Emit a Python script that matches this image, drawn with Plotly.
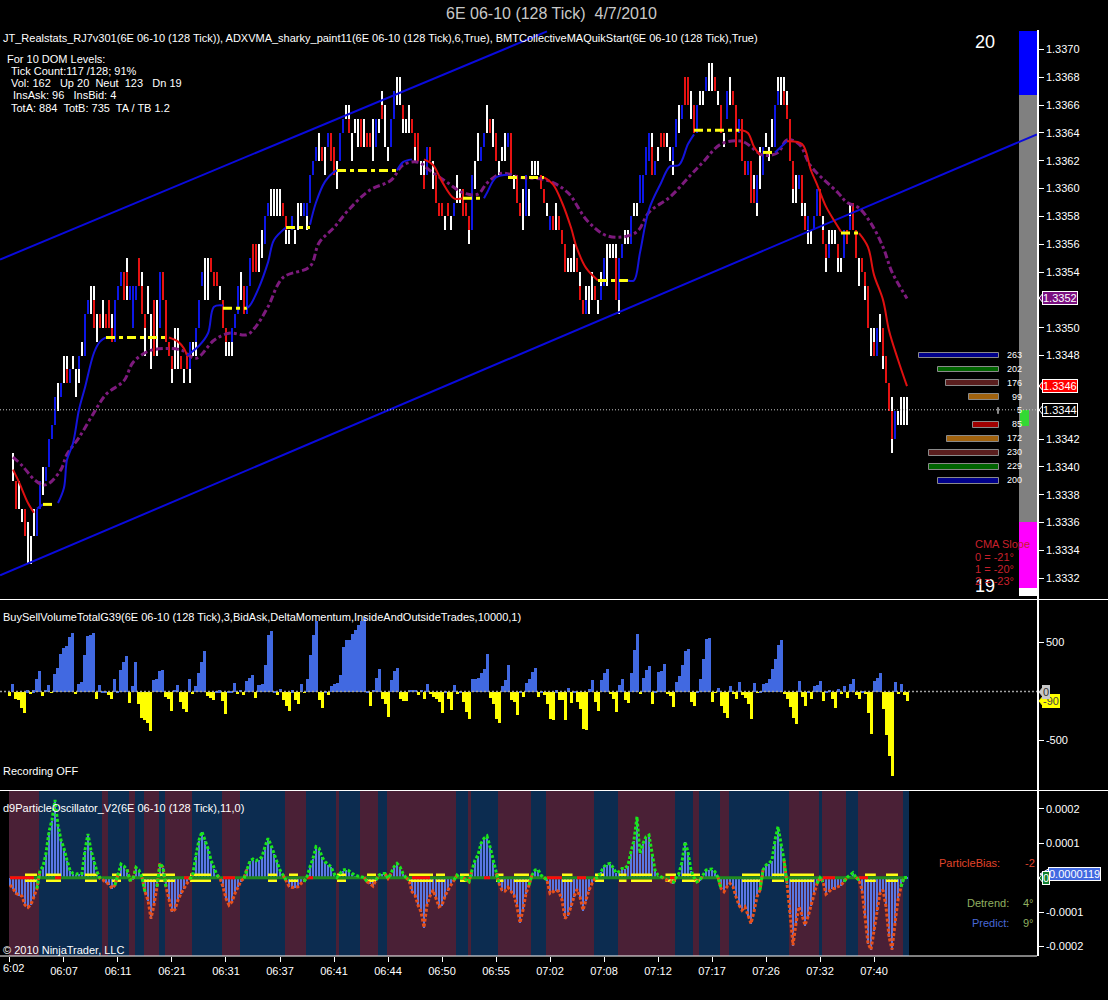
import itertools
import plotly.graph_objects as go

FONT = "Liberation Sans"
W = 1108.0
H = 1000.0

# --- price panel, all in ticks above 1.3300
bar_index = list(range(1, 300))
bar_high = [41,39,39,37,37,36,35,37,37,39,
    40,40,42,43,45,46,46,48,48,47,
    48,47,48,49,51,52,53,53,51,51,
    52,51,52,51,52,53,54,54,55,53,
    53,53,55,54,51,53,51,52,52,54,
    54,52,49,48,50,50,48,47,48,49,
    49,50,52,54,55,55,55,54,54,53,
    52,50,49,50,51,53,54,53,53,55,
    56,56,56,57,58,59,60,60,60,60,
    59,58,57,58,57,59,59,59,59,61,
    62,63,64,63,63,64,64,63,62,64,
    65,66,66,64,65,65,65,65,64,64,
    65,65,65,67,66,63,65,67,68,68,
    66,65,66,65,64,64,62,62,63,63,
    62,61,59,59,58,59,58,59,61,60,
    60,59,58,61,62,64,63,64,66,65,
    65,64,62,63,64,64,64,61,61,59,
    60,61,60,62,62,62,61,60,59,58,
    58,59,58,57,56,55,55,56,55,54,
    52,53,53,54,53,52,54,55,56,56,
    56,56,55,56,57,57,58,59,59,61,
    61,63,64,64,62,63,64,64,64,63,
    63,65,66,66,68,68,67,66,66,67,
    67,68,69,69,68,67,66,64,67,68,
    67,66,65,65,62,62,62,61,61,63,
    63,64,63,65,66,68,68,68,67,65,
    62,61,61,61,59,58,57,58,60,60,
    58,56,57,57,57,56,55,57,57,59,
    59,57,55,55,54,53,50,50,50,51,
    50,48,46,45,44,44,45,45,45]
bar_low = [39,37,37,36,35,33,33,35,35,37,
    38,39,40,42,43,44,45,46,46,46,
    47,45,46,48,48,51,51,50,49,50,
    50,50,50,49,49,52,53,52,52,52,
    50,52,53,51,48,51,47,48,48,50,
    52,49,48,46,47,47,47,46,47,46,
    48,48,50,53,52,52,54,53,53,52,
    50,48,48,48,50,51,52,51,51,53,
    54,54,54,55,56,58,58,58,58,58,
    58,56,56,57,56,57,58,58,57,59,
    61,62,62,62,61,63,62,61,60,62,
    64,65,64,62,64,63,63,63,63,63,
    62,63,64,65,63,62,63,65,66,66,
    64,64,64,64,62,62,61,60,61,62,
    60,59,58,58,57,58,57,58,59,59,
    58,58,56,57,60,62,62,63,64,64,
    63,62,61,62,62,63,61,60,59,58,
    57,58,58,61,61,61,60,59,58,57,
    57,57,57,56,54,54,54,54,54,52,
    51,51,51,52,52,51,52,53,53,55,
    55,52,51,55,56,56,56,58,58,59,
    59,61,62,61,61,62,63,63,63,62,
    61,63,64,65,66,66,65,64,64,66,
    66,67,67,67,67,66,64,63,65,66,
    66,63,64,62,61,61,59,59,58,60,
    61,63,62,63,63,66,66,66,65,62,
    59,59,60,58,57,56,56,57,58,58,
    56,54,55,56,56,54,54,55,56,57,
    57,55,53,54,52,50,48,48,48,49,
    47,46,44,41,42,43,43,43,43]
bar_open = [39,39,37,36,37,33,33,35,35,37,
    38,39,40,42,43,44,45,46,47,46,
    47,45,47,48,48,51,51,52,49,51,
    50,51,52,50,49,52,53,54,54,52,
    50,52,55,53,51,51,47,52,48,50,
    54,52,49,48,47,47,48,46,48,47,
    48,49,50,53,52,52,55,54,54,52,
    52,50,48,49,50,51,52,53,51,53,
    56,56,54,55,56,58,58,58,58,58,
    59,58,56,57,56,57,58,58,58,59,
    61,62,62,63,61,63,64,63,60,62,
    64,65,65,62,64,63,65,63,64,64,
    62,63,64,66,63,62,63,65,66,66,
    66,64,64,65,64,64,61,61,61,63,
    60,61,59,59,57,59,57,58,59,59,
    60,59,58,57,60,62,62,63,64,65,
    63,64,61,62,62,63,64,60,61,59,
    57,58,58,61,61,61,61,60,58,57,
    58,57,58,57,56,54,54,54,55,53,
    52,51,51,52,53,51,52,53,53,55,
    55,55,52,55,56,56,56,58,58,59,
    59,61,62,63,61,62,64,64,63,62,
    62,63,64,65,68,68,65,66,64,66,
    66,67,67,67,68,66,66,63,65,66,
    67,66,64,65,62,61,62,60,59,60,
    61,63,62,63,63,66,66,67,66,65,
    62,59,60,61,58,57,56,57,58,60,
    57,56,55,56,56,56,54,55,57,57,
    59,57,53,55,54,53,48,49,48,49,
    50,48,46,44,42,43,43,43,43]
bar_close = [39,37,37,36,35,33,33,35,37,39,
    38,40,42,43,45,44,46,46,46,47,
    47,45,48,48,51,52,51,50,49,50,
    50,50,50,49,52,53,54,52,53,53,
    53,53,53,51,50,51,47,48,48,54,
    52,49,48,47,47,47,47,46,47,49,
    48,50,52,54,52,52,54,53,53,52,
    50,49,48,50,51,53,52,51,53,55,
    54,54,54,55,58,59,58,58,58,58,
    58,57,56,58,56,57,58,59,59,61,
    62,63,62,62,61,64,62,61,60,64,
    65,65,64,62,64,63,63,63,63,63,
    62,65,64,65,63,62,65,67,66,66,
    65,64,64,64,63,62,61,60,63,62,
    60,59,58,58,57,58,57,59,59,59,
    58,58,57,61,60,62,63,64,64,64,
    63,62,61,62,62,64,61,60,59,58,
    57,61,58,61,61,61,60,59,58,58,
    57,57,57,56,54,54,54,54,54,52,
    51,52,51,52,52,51,53,55,53,55,
    55,52,55,56,56,56,58,58,58,61,
    61,63,64,61,62,62,63,63,63,62,
    63,65,64,66,66,66,65,64,66,66,
    66,68,67,67,67,66,64,63,67,66,
    66,63,65,62,61,62,59,59,61,60,
    63,63,62,63,66,67,66,66,65,62,
    60,59,61,59,57,58,56,58,60,58,
    56,55,56,56,56,55,54,57,56,58,
    57,55,53,54,53,50,48,48,50,49,
    48,46,44,42,44,43,43,43,43]

# adaptive moving average: r falling, b rising, y flat
vma_index = [1,3,6,8, 9,11, 11,14, 16,18,19,21,23,25,28,30,32, 32,53,
    53,56,58,59, 59,63,66,68,71, 71,79, 79,80,83,86,88,92, 92,100,
    100,102,105,108,109, 109,129, 129,131,134, 138,141,144,148,151, 151,158,
    158,159,162,166, 166,178, 178,181,184,187,189,192,196, 196,206,
    206,208,210,213,217,220,223,226,228, 228,243, 243,244,246,248,250, 251,255,
    255,259, 259,264,267,269,272,275,277, 277,283, 283,286,288,291,293,296,299]
vma_price = [1.33398,1.33389,1.33374,1.33367, 1.33370,1.33373, 1.33373,1.33373,
    1.33374,1.33385,1.33405,1.33417,1.33441,1.33457,1.33482,1.33490,1.33493, 1.33493,1.33493,
    1.33493,1.33490,1.33485,1.33480, 1.33480,1.33487,1.33496,1.33515,1.33516, 1.33514,1.33514,
    1.33514,1.33516,1.33529,1.33547,1.33563,1.33572, 1.33572,1.33572,
    1.33574,1.33590,1.33605,1.33612,1.33613, 1.33613,1.33613, 1.33613,1.33619,1.33621,
    1.33621,1.33617,1.33605,1.33593,1.33593, 1.33593,1.33593,
    1.33593,1.33597,1.33608,1.33610, 1.33608,1.33608,
    1.33608,1.33603,1.33590,1.33572,1.33557,1.33543,1.33534, 1.33534,1.33534,
    1.33534,1.33534,1.33554,1.33585,1.33604,1.33616,1.33617,1.33632,1.33639, 1.33642,1.33642,
    1.33642,1.33642,1.33640,1.33630,1.33624, 1.33626,1.33626,
    1.33626,1.33634, 1.33634,1.33632,1.33613,1.33603,1.33587,1.33576,1.33569, 1.33568,1.33568,
    1.33568,1.33558,1.33538,1.33520,1.33498,1.33477,1.33458]
vma_state = list("rrrr" "bb" "yy" "bbbbbbbbb" "yy" "rrrr" "bbbbb" "yy" "bbbbbb" "yy"
    "bbbbb" "yy" "bbb" "rrrrr" "yy" "bbbb" "yy" "rrrrrrr" "yy"
    "bbbbbbbbb" "yy" "rrrrr" "yy" "bb" "rrrrrrr" "yy" "rrrrrrr")

cma_index = [1,4,8,11,13,17,19,23,28,32,38,41,46,51,57,62,68,73,79,82,
    86,91,100,103,108,113,120,127,131,136,140,146,151,156,159,164,170,179,186,192,
    198,203,209,213,220,227,231,237,244,251,256,259,263,267,276,279,283,287,291,294,299]
cma_price = [1.33407,1.33401,1.33391,1.33387,1.33388,1.33398,1.33409,1.33421,1.33439,1.33452,
    1.33462,1.33475,1.33483,1.33485,1.33484,1.33478,1.33491,1.33496,1.33495,1.33501,
    1.33515,1.33536,1.33544,1.33561,1.33572,1.33585,1.33599,1.33606,1.33617,1.33619,
    1.33613,1.33604,1.33597,1.33596,1.33604,1.33611,1.33608,1.33606,1.33597,1.33578,
    1.33567,1.33565,1.33569,1.33583,1.33594,1.33610,1.33619,1.33632,1.33634,1.33624,
    1.33626,1.33635,1.33632,1.33616,1.33597,1.33590,1.33586,1.33575,1.33558,1.33540,1.33521]

channel_upper_index = [-3.3, 179]
channel_upper_price = [1.33549, 1.33713]
channel_lower_index = [-3.3, 342.3]
channel_lower_price = [1.33322, 1.33639]
last_price = 1.33441

# order book ladder next to the price axis
dom_levels = [1.3348,1.3347,1.3346,1.3345,1.3344,1.3343,1.3342,1.3341,1.3340,1.3339]
dom_sizes = [263,202,176,99,5,85,172,230,229,200]
dom_colors = ["#00008b","#006400","#5a1e1e","#a0620e","#7a5a5a",
              "#a00000","#a0620e","#5a1e1e","#006400","#00008b"]

gauge_edges = [1.33713,1.33667,1.33360,1.33313,1.33307]
gauge_colors = ["#0000ff","#808080","#ff00ff","#ffffff"]

# the three missing levels sit under the price tags
price_ticks = [1.3370,1.3368,1.3366,1.3364,1.3362,1.3360,1.3358,1.3356,1.3354,
               1.3350,1.3348,1.3342,1.3340,1.3338,1.3336,1.3334,1.3332]

# --- buy/sell volume, one value per bar from index 0
volume = [-44,85,-68,-85,-160,-214,17,-24,17,136,
    211,-44,24,68,-10,180,248,391,449,469,
    561,602,-24,85,102,374,571,585,605,-75,
    68,10,7,-34,-75,136,10,228,306,364,
    -112,58,306,-126,-262,-282,-316,-398,126,136,
    214,221,-51,-75,-194,24,68,-102,-170,-204,
    136,-24,58,194,306,415,-44,-58,-78,10,
    17,-92,-228,3,8,92,-24,24,-34,109,
    146,170,-65,68,85,272,578,619,10,-34,
    27,-85,-139,-194,17,-78,-126,78,-10,129,
    374,578,724,-85,-160,10,-34,65,78,92,
    170,459,527,527,595,636,680,724,765,5,
    -146,24,146,238,-68,-126,-255,119,214,248,
    -68,-92,-92,24,24,24,-34,24,-75,78,
    -24,-51,-68,-102,-214,3,-75,-187,68,-17,
    10,-102,-204,-279,129,129,146,197,238,384,
    -61,-126,-272,-316,58,126,272,-85,-102,-238,
    10,-51,92,136,204,248,-51,5,-27,-119,
    -272,-282,17,-78,-78,-282,44,-112,5,-102,
    -170,-381,-384,34,126,-102,-194,126,194,231,
    -24,-75,-204,68,136,-78,-112,194,425,588,
    -20,146,228,262,-126,3,204,214,282,-17,
    -44,-153,102,160,272,418,435,-102,-146,3,
    129,340,537,551,-102,-10,44,-146,-214,-265,
    58,-17,-75,102,-34,-58,-119,-279,95,-10,
    3,85,95,136,238,340,476,527,-17,-75,
    -153,-262,-330,109,-51,-146,10,-68,58,68,
    109,-95,10,24,-68,-163,34,-17,58,-61,
    85,129,-34,-75,3,-17,-214,-432,109,146,
    197,-177,-442,-656,-857,102,-17,78,-27,-92]

# --- particle oscillator, one value per bar, in millionths (chart reads about 0.97 of that)
osc = [-22,-32,-47,-52,-55,-82,-89,-80,-57,-32,
    23,33,73,138,173,233,158,113,88,53,
    23,13,11,13,13,83,131,83,53,18,
    -2,-7,-14,-20,-32,-22,8,41,35,25,
    -7,-5,31,23,1,-42,-67,-122,-82,-27,
    43,31,-27,-67,-102,-95,-67,-47,-32,-17,
    -5,13,68,113,138,113,88,53,28,8,
    -2,-27,-62,-82,-72,-47,-27,-10,-2,28,
    51,56,51,55,63,93,118,98,73,53,
    23,8,-7,-25,-29,-29,-27,-17,-12,3,
    33,58,93,88,63,48,41,33,13,1,
    13,23,25,21,13,8,5,3,1,-12,
    -17,-25,-7,8,13,13,-2,13,33,43,
    33,13,0,-7,-42,-52,-82,-102,-149,-82,
    -55,-37,-62,-87,-82,-55,-37,-22,-7,8,
    0,1,-7,-12,23,53,68,103,118,125,
    93,53,13,-17,-37,-40,-29,-42,-52,-87,
    -135,-97,-47,-22,8,23,25,8,1,-7,
    -47,-42,-37,-42,-67,-122,-112,-87,-57,-35,
    -57,-97,-67,-37,-17,-2,1,18,33,41,
    43,31,15,18,28,28,38,78,113,183,
    73,103,123,128,68,23,8,3,-2,-7,
    -9,-17,1,13,48,108,78,23,1,-12,
    -7,8,23,25,26,18,1,-32,-42,-27,
    -17,-27,-57,-82,-97,-87,-112,-137,-102,-57,
    -37,23,38,43,53,113,153,98,53,-17,
    -107,-202,-137,-87,-112,-142,-117,-82,-47,-17,
    0,-12,-49,-42,-32,-32,-27,-22,-12,1,
    8,15,1,-7,-37,-117,-197,-215,-157,-97,
    -47,-37,-87,-177,-215,-137,-67,-27,1,1]

# first bar of each background band, maroon and navy in turn
band_starts = [0,10,31,33,40,42,45,50,52,61,71,77,92,99,109,110,117,123,126,149,
    153,154,163,174,179,195,203,222,228,230,237,240,260,270,271,279,283,298,300]
flat_starts = [5,12,25,34,44,60,86,93,109,119,133,136,142,150,162,168,184,195,203,207,
    218.5,224,244,254,260,264,285,292]
flat_ends = [9,17,29,37,55,67,89,96,112,122,136,141,145,153,164.5,173,187.5,198,205.5,214,
    222,230,250,258,264,268,288.6,296]
bias_starts = [0,15,58,71,99,134,158,179,189,220,271,283]
bias_ends = [8,17,60,75,101,140,160,184,192,222,275,286]

# first label runs off the left edge in the original, so it is placed by hand below
time_ticks = list(range(0, 300, 18))
time_labels = ["","06:07","06:11","06:21","06:31","06:37","06:41","06:44","06:50",
    "06:55","07:02","07:08","07:12","07:17","07:26","07:32","07:40"]

X_RANGE = [-3.33, 342.33]
price_range = [1.33305, 1.33714]
vol_range = [-1010, 939]
osc_range = [-2.274e-4, 2.536e-4]
to_price = lambda t: 1.33 + t / 10000.0

fig = go.Figure()

# candle wicks and bodies, a hair under full opacity so plotly rounds them to whole pixels
fig.add_trace(go.Bar(x=bar_index, y=[(h - l) / 10000.0 for h, l in zip(bar_high, bar_low)],
    base=[to_price(l) for l in bar_low], width=0.34, marker=dict(color="#ffffff", line_width=0, opacity=0.99)))
bodies = [(i, o, c) for i, o, c in zip(bar_index, bar_open, bar_close) if o != c]
fig.add_trace(go.Bar(x=[b[0] for b in bodies],
    y=[abs(b[2] - b[1]) / 10000.0 for b in bodies],
    base=[to_price(min(b[1], b[2])) for b in bodies], width=0.95,
    marker=dict(color=["#0a14e6" if b[2] > b[1] else "#e60f0f" for b in bodies], line_width=0, opacity=0.99)))

# gauge column
fig.add_trace(go.Bar(x=[339.33] * 4,
    y=[a - b for a, b in zip(gauge_edges[:-1], gauge_edges[1:])], base=gauge_edges[1:],
    width=6.0, marker=dict(color=gauge_colors, line_width=0)))
fig.add_trace(go.Bar(x=[338.0], y=[0.00012], base=[1.33429], width=3.0,
    marker=dict(color="#33d933", line_width=0)))

# order book ladder
dom_scale = 0.1013
fig.add_trace(go.Bar(orientation="h", y=dom_levels, x=[s * dom_scale for s in dom_sizes],
    base=[329.67 - s * dom_scale for s in dom_sizes], width=0.000042,
    marker=dict(color=dom_colors, line=dict(color="#8a8a8a", width=1))))
fig.add_trace(go.Scatter(x=[337.3] * len(dom_sizes), y=dom_levels, mode="text",
    text=[str(s) for s in dom_sizes], textposition="middle left",
    textfont=dict(family=FONT, size=9, color="#ffffff")))

# channel and last price
line_blue = dict(color="#0a0adc", width=2)
fig.add_trace(go.Scatter(x=channel_upper_index, y=channel_upper_price, mode="lines", line=line_blue))
fig.add_trace(go.Scatter(x=channel_lower_index, y=channel_lower_price, mode="lines", line=line_blue))
fig.add_trace(go.Scatter(x=X_RANGE, y=[last_price] * 2, mode="lines",
    line=dict(color="#c8c8c8", width=1, dash="1px,2px")))

# collective MA
fig.add_trace(go.Scatter(x=cma_index, y=cma_price, mode="lines",
    line=dict(color="#7d1a7d", width=3, dash="7px,3px,3px,3px", shape="spline")))

# VMA, one trace per colour run
vma_styles = {"r": dict(color="#e01010", width=2, shape="spline"),
              "b": dict(color="#1414dc", width=2, shape="spline"),
              "y": dict(color="#ffff14", width=3, dash="9px,4px,4px,4px")}
points = list(zip(vma_index, vma_price, vma_state))
for state, run in itertools.groupby(points, key=lambda p: p[2]):
    run = list(run)
    fig.add_trace(go.Scatter(x=[p[0] for p in run], y=[p[1] for p in run], mode="lines",
        line=vma_styles[state]))

# volume histogram
fig.add_trace(go.Bar(x=list(range(len(volume))), y=volume, width=1.0, xaxis="x2", yaxis="y2",
    marker=dict(color=["#4169e1" if v > 0 else "#ffff00" for v in volume], line_width=0)))
fig.add_trace(go.Scatter(x=X_RANGE, y=[0, 0], mode="lines", xaxis="x2", yaxis="y2",
    line=dict(color="#a0a0a0", width=1.5, dash="2px,2px")))

# oscillator background bands
spans = list(zip(band_starts[:-1], band_starts[1:]))
fig.add_trace(go.Bar(x=[a for a, b in spans], y=[osc_range[1] - osc_range[0]] * len(spans),
    base=osc_range[0], width=[b - a for a, b in spans], offset=-0.33, xaxis="x3", yaxis="y3",
    marker=dict(color=["#4a2036" if n % 2 == 0 else "#0c2c50" for n in range(len(spans))], line_width=0)))

osc_values = [v * 0.97e-6 for v in osc]
osc_x = list(range(len(osc)))
fig.add_trace(go.Bar(x=osc_x, y=osc_values, width=0.34, xaxis="x3", yaxis="y3",
    marker=dict(color="#5a78e6", line_width=0, opacity=0.99)))

# zero band, red where bias is down, yellow rails where flat
fig.add_trace(go.Scatter(x=[0, 299], y=[0, 0], mode="lines", xaxis="x3", yaxis="y3",
    line=dict(color="#1f8a1f", width=3)))
bias_x, bias_y = [], []
for a, b in zip(bias_starts, bias_ends):
    bias_x += [a, b, None]
    bias_y += [0, 0, None]
fig.add_trace(go.Scatter(x=bias_x, y=bias_y, mode="lines", xaxis="x3", yaxis="y3",
    line=dict(color="#ff0a0a", width=3)))
for rail in (8.7e-6, -8.7e-6):
    rail_x, rail_y = [], []
    for a, b in zip(flat_starts, flat_ends):
        rail_x += [a, b, None]
        rail_y += [rail, rail, None]
    fig.add_trace(go.Scatter(x=rail_x, y=rail_y, mode="lines", xaxis="x3", yaxis="y3",
        line=dict(color="#ffff14", width=2.5)))

# oscillator line, green above zero and orange below
def keep_side(values, positive):
    out = []
    for n, v in enumerate(values):
        near = values[max(n - 1, 0):n + 2]
        hit = any((u >= 0) == positive for u in near)
        out.append(v if hit else None)
    return out

fig.add_trace(go.Scatter(x=osc_x, y=keep_side(osc_values, False), mode="lines", xaxis="x3", yaxis="y3",
    line=dict(color="#e8501a", width=3, dash="3px,2px")))
fig.add_trace(go.Scatter(x=osc_x, y=keep_side(osc_values, True), mode="lines", xaxis="x3", yaxis="y3",
    line=dict(color="#19e619", width=3, dash="3px,2px")))

# pixel helpers for the text and tags that sit on the page
annotations = []
shapes = []

def label(x, y, text, color="#ffffff", size=11, anchor="left"):
    annotations.append(dict(xref="paper", yref="paper", x=x / W, y=1 - y / H, text=text,
        showarrow=False, xanchor=anchor, yanchor="middle", borderpad=0,
        font=dict(family=FONT, size=size, color=color)))

def tag(y, text, fill, border, color, left=1039, box=1042):
    shapes.append(dict(type="path", xref="paper", yref="paper", fillcolor=fill,
        line=dict(color=border, width=1),
        path="M %f %f L %f %f L %f %f Z" % (left / W, 1 - y / H, (box + 2) / W, 1 - (y - 6) / H,
                                            (box + 2) / W, 1 - (y + 6) / H)))
    annotations.append(dict(xref="paper", yref="paper", x=box / W, y=1 - y / H, text=text,
        showarrow=False, xanchor="left", yanchor="middle", bgcolor=fill, bordercolor=border,
        borderwidth=1, borderpad=0, font=dict(family=FONT, size=11, color=color)))

label(551, 13, "6E 06-10 (128 Tick)  4/7/2010", "#c8c8c8", 16, "center")
label(2, 38, "JT_Realstats_RJ7v301(6E 06-10 (128 Tick)), ADXVMA_sharky_paint11(6E 06-10 (128 Tick),6,True), BMTCollectiveMAQuikStart(6E 06-10 (128 Tick),True)")
label(6, 59, "For 10 DOM Levels:")
label(10, 71, "Tick Count:117 /128; 91%")
label(10, 83, "Vol: 162   Up 20  Neut  123   Dn 19")
label(12, 95, "InsAsk: 96   InsBid: 4")
label(10, 108, "TotA: 884  TotB: 735  TA / TB 1.2")
label(985, 42, "20", size=18, anchor="center")
label(985, 586, "19", size=18, anchor="center")
label(974, 544, "CMA Slope", "#c8202c")
label(974, 557, "0 = -21°", "#c8202c")
label(974, 569, "1 = -20°", "#c8202c")
label(974, 581, "2 = -23°", "#c8202c")
label(2, 617, "BuySellVolumeTotalG39(6E 06-10 (128 Tick),3,BidAsk,DeltaMomentum,InsideAndOutsideTrades,10000,1)")
label(2, 771, "Recording OFF")
label(2, 808, "d9ParticleOscillator_V2(6E 06-10 (128 Tick),11,0)")
label(2, 950, "© 2010 NinjaTrader, LLC")
label(2, 968, "6:02")
label(938, 863, "ParticleBias:", "#e0442a")
label(1024, 863, "-2", "#e0442a")
label(966, 903, "Detrend:", "#90b060")
label(1022, 903, "4°", "#90b060")
label(971, 923, "Predict:", "#4868d8")
label(1022, 923, "9°", "#90b060")

tag(298, "1.3352", "#7a0f80", "#ffffff", "#ffffff")
tag(386, "1.3346", "#ff0000", "#ffffff", "#ffffff")
tag(410, "1.3344", "#000000", "#ffffff", "#ffffff")
tag(701, "-90", "#ffff00", "#ffff00", "#444444")
tag(692, "0", "#c8c8c8", "#c8c8c8", "#333333")
tag(874, "0.0000119", "#4169e1", "#ffffff", "#ffffff", left=1040, box=1048)
tag(878, "0", "#0f7f2f", "#ffffff", "#ffffff")

# panel rules
for y_px, x_end in [(599.5, 1.0), (790.5, 1.0), (956, 1037 / W)]:
    shapes.append(dict(type="line", xref="paper", yref="paper", x0=0, x1=x_end,
        y0=1 - y_px / H, y1=1 - y_px / H, line=dict(color="#ffffff", width=1)))

x_dom = [0, 1037 / W]
axis_common = dict(showgrid=False, zeroline=False, color="#ffffff",
    tickfont=dict(family=FONT, size=11, color="#ffffff"))
y_common = dict(axis_common, side="right", ticks="outside", ticklen=5, tickcolor="#ffffff",
    showline=True, linecolor="#ffffff", linewidth=1.5)

fig.update_layout(
    width=1108, height=1000, autosize=False,
    margin=dict(l=0, r=0, t=0, b=0),
    paper_bgcolor="#000000", plot_bgcolor="#000000",
    showlegend=False, barmode="overlay", bargap=0, hovermode=False,
    annotations=annotations, shapes=shapes,
    xaxis=dict(axis_common, domain=x_dom, range=X_RANGE, anchor="y", showticklabels=False),
    xaxis2=dict(axis_common, domain=x_dom, range=X_RANGE, anchor="y2", showticklabels=False),
    xaxis3=dict(axis_common, domain=x_dom, range=X_RANGE, anchor="y3", ticks="outside", ticklen=5,
        tickcolor="#ffffff", tickvals=time_ticks, ticktext=time_labels),
    yaxis=dict(y_common, domain=[0.401, 0.970], range=price_range, anchor="x",
        tickvals=price_ticks, tickformat=".4f"),
    yaxis2=dict(y_common, domain=[0.2095, 0.4005], range=vol_range, anchor="x2",
        tickvals=[500, -500], ticktext=["500", "-500"]),
    yaxis3=dict(y_common, domain=[0.044, 0.2095], range=osc_range, anchor="x3",
        tickvals=[0.0002, 0.0001, -0.0001, -0.0002],
        ticktext=["0.0002", "0.0001", "-0.0001", "-0.0002"]),
)

fig.write_html("out.html", config=dict(displayModeBar=False),
    post_script="document.body.style.margin='0';document.body.style.background='#000';")
